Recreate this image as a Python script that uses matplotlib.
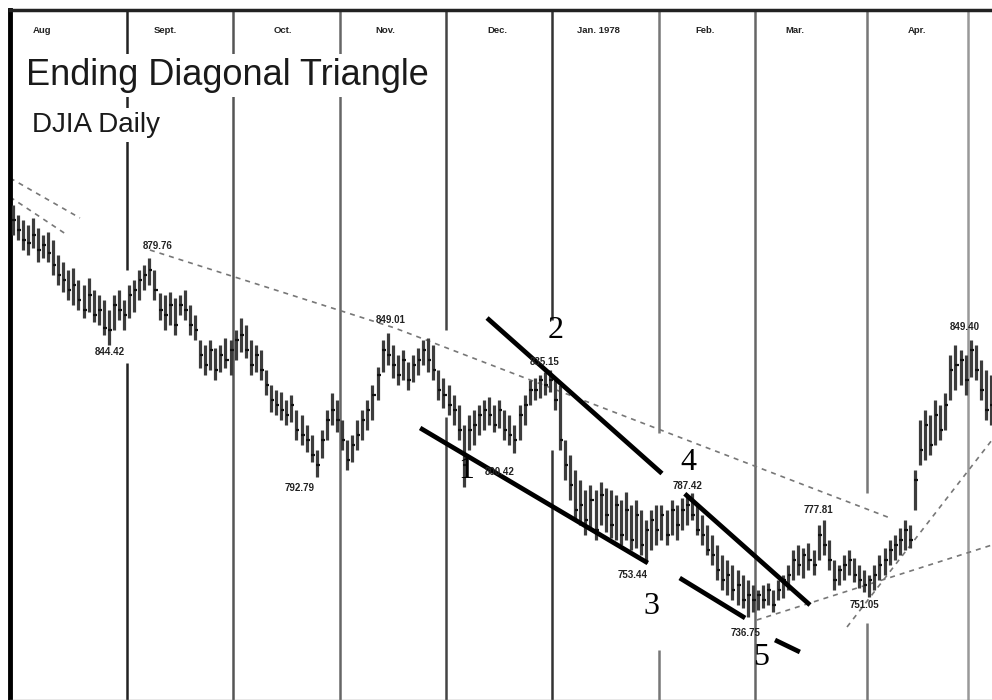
import numpy as np
import matplotlib
matplotlib.use("Agg")
import matplotlib.pyplot as plt

plt.rcParams['font.family'] = ['Liberation Sans', 'DejaVu Sans']

# DJIA daily bars, Aug 1977 - early May 1978 (one entry per trading day)
highs = [900.0, 896.0, 894.0, 892.0, 894.8, 890.8, 888.0, 889.2, 886.0, 880.0,
         877.2, 874.0, 874.8, 870.0, 868.0, 870.8, 866.0, 864.0, 862.0, 858.0,
         864.0, 866.0, 862.0, 868.0, 870.0, 874.0, 876.0, 878.8, 874.0, 864.8,
         864.0, 865.2, 862.8, 864.0, 866.0, 860.0, 856.0, 846.0, 844.0, 846.0,
         842.8, 844.0, 846.8, 846.0, 850.0, 854.8, 852.0, 846.0, 844.0, 842.0,
         834.0, 828.0, 826.0, 825.2, 822.0, 824.0, 818.0, 816.0, 812.0, 808.0,
         802.0, 810.0, 818.0, 824.8, 822.0, 814.0, 806.0, 808.0, 814.0, 818.0,
         822.0, 828.0, 835.2, 846.0, 848.8, 844.0, 840.0, 842.0, 837.2, 840.0,
         842.8, 846.0, 846.8, 844.0, 834.0, 830.8, 828.0, 824.0, 820.0, 812.0,
         816.0, 818.0, 820.0, 822.0, 823.2, 820.0, 822.0, 818.0, 816.0, 812.0,
         820.0, 824.0, 830.0, 830.8, 832.0, 833.2, 834.0, 830.0, 828.0, 806.0,
         800.0, 794.0, 790.0, 786.0, 788.0, 786.0, 789.2, 786.8, 786.0, 784.0,
         782.0, 785.2, 780.0, 782.0, 778.0, 774.0, 778.0, 780.0, 780.0, 778.0,
         782.0, 780.0, 782.8, 784.0, 784.8, 780.0, 776.0, 772.0, 768.0, 764.0,
         760.0, 758.0, 756.0, 754.0, 752.0, 750.0, 748.0, 746.0, 748.0, 748.8,
         746.0, 750.0, 752.0, 756.0, 762.0, 764.0, 762.8, 764.8, 762.0, 772.0,
         774.0, 766.0, 758.0, 756.0, 760.0, 762.0, 758.8, 756.0, 754.0, 752.0,
         756.0, 760.0, 762.8, 766.0, 768.0, 770.8, 774.0, 772.0, 794.0, 814.0,
         818.0, 816.0, 822.0, 820.0, 824.8, 840.0, 844.0, 842.0, 840.0, 846.0,
         844.0, 838.0, 834.0, 832.0]
lows = [888.0, 886.0, 882.0, 880.0, 882.8, 877.2, 878.8, 877.2, 872.0, 868.0,
        865.2, 862.0, 860.0, 858.0, 854.8, 857.2, 853.2, 852.0, 848.0, 844.0,
        850.0, 854.0, 850.0, 854.8, 857.2, 862.0, 866.0, 868.0, 862.0, 854.0,
        850.0, 852.0, 848.0, 856.0, 854.0, 848.0, 846.0, 834.8, 832.0, 834.0,
        830.0, 833.2, 834.8, 832.0, 838.0, 841.2, 838.8, 832.0, 833.2, 830.0,
        824.0, 817.2, 816.0, 814.0, 812.0, 813.2, 806.0, 804.0, 801.2, 797.2,
        791.2, 798.8, 806.0, 812.0, 809.2, 802.0, 794.0, 797.2, 802.0, 806.0,
        810.0, 814.0, 822.0, 833.2, 836.0, 830.8, 828.0, 830.0, 826.0, 829.2,
        832.0, 836.0, 833.2, 830.0, 822.0, 818.8, 816.0, 812.0, 806.0, 787.2,
        802.0, 804.0, 808.0, 810.0, 812.0, 809.2, 810.8, 806.0, 804.0, 800.8,
        806.0, 812.0, 820.0, 822.0, 822.8, 824.0, 825.2, 818.0, 802.0, 790.0,
        782.0, 774.0, 772.0, 768.0, 770.0, 766.0, 772.0, 769.2, 766.8, 766.0,
        764.0, 766.0, 762.0, 762.8, 760.0, 756.8, 762.0, 764.0, 766.0, 764.0,
        768.0, 766.0, 770.0, 772.0, 774.0, 768.0, 764.0, 760.0, 756.0, 750.0,
        746.0, 744.0, 742.0, 740.0, 738.8, 735.2, 737.2, 738.0, 738.8, 740.0,
        737.2, 742.0, 742.8, 746.0, 750.0, 752.0, 750.8, 754.0, 752.0, 758.0,
        760.0, 754.0, 746.0, 748.0, 750.0, 752.0, 749.2, 746.8, 745.2, 743.2,
        746.0, 750.0, 752.0, 756.0, 758.0, 760.0, 762.0, 762.8, 778.0, 796.0,
        798.0, 800.0, 804.0, 806.0, 810.0, 822.0, 826.0, 828.0, 824.0, 831.2,
        830.0, 822.0, 814.0, 812.0]
closes = [894, 890, 886, 885, 888, 882, 884, 881, 876, 872,
          870, 866, 868, 862, 858, 864, 856, 858, 851, 850,
          860, 858, 856, 864, 866, 870, 872, 874, 866, 858,
          856, 860, 852, 860, 858, 852, 850, 840, 836, 842,
          834, 840, 838, 842, 846, 848, 842, 836, 840, 834,
          828, 822, 820, 818, 816, 820, 810, 808, 806, 800,
          796, 806, 814, 818, 814, 806, 798, 804, 808, 814,
          818, 824, 832, 842, 840, 836, 832, 838, 830, 836,
          838, 842, 838, 834, 826, 824, 820, 818, 810, 796,
          810, 812, 816, 818, 816, 812, 818, 810, 808, 806,
          816, 820, 826, 826, 830, 828, 830, 822, 806, 796,
          788, 778, 780, 774, 782, 770, 784, 776, 772, 780,
          768, 778, 766, 776, 764, 770, 774, 770, 776, 768,
          778, 772, 778, 780, 776, 770, 768, 762, 760, 754,
          750, 752, 746, 748, 742, 744, 742, 744, 742, 746,
          740, 746, 750, 752, 758, 756, 760, 758, 756, 768,
          764, 758, 750, 754, 756, 758, 752, 750, 748, 750,
          752, 756, 758, 762, 764, 766, 770, 766, 790, 802,
          812, 804, 816, 810, 820, 834, 836, 838, 830, 842,
          834, 826, 818, 820]

# month dividers (between trading days) and top labels
month_breaks = [22.5, 43.5, 64.5, 85.5, 106.5, 127.5, 146.5, 168.5, 188.5]
month_names = ["Aug", "Sept.", "Oct.", "Nov.", "Dec.", "Jan. 1978", "Feb.", "Mar.", "Apr."]
month_label_x = [5.8, 30.1, 53.3, 73.5, 95.6, 115.5, 136.6, 154.3, 178.4]

# price labels at the turning points: (day, price, text)
point_labels = [(19.2, 841.2, "844.42"), (28.7, 883.6, "879.76"), (74.5, 854.0, "849.01"),
                (56.7, 786.8, "792.79"), (105.0, 837.2, "835.15"), (96.1, 793.2, "800.42"),
                (133.2, 787.6, "787.42"), (122.4, 752.0, "753.44"), (144.5, 728.8, "736.75"),
                (158.9, 778.0, "777.81"), (168.1, 740.0, "751.05"), (187.9, 851.2, "849.40")]
wave_labels = [(89.4, 794.0, "1"), (107.2, 850.0, "2"), (126.1, 739.5, "3"),
               (133.3, 797.0, "4"), (147.6, 719.0, "5")]

# wedge (solid) and trend (dashed) lines, endpoints
solid_lines = [((93.6, 854.8), (128.1, 792.6)), ((132.6, 784.5), (157.3, 740.0)),
               ((80.4, 810.8), (125.3, 756.8)), ((131.6, 750.8), (144.5, 734.8)),
               ((150.4, 726.0), (155.3, 721.2))]
dashed_lines = [[(-0.5, 910.8), (13.3, 894.8)], [(-0.5, 903.2), (10.2, 888.8)],
                [(27.1, 882.0), (75.4, 850.8), (173.1, 774.8)],
                [(146.8, 734.0), (193.2, 764.0)], [(164.6, 731.2), (193.2, 806.0)]]

fig = plt.figure(figsize=(9.92, 7.0), dpi=100)
ax = fig.add_axes([10 / 992, 0.0, 982 / 992, 690 / 700])
ax.set_xlim(-0.5, 193.2)
ax.set_ylim(702, 978)

# month lines, with the gaps seen in the scan
gaps = {22.5: (836.8, 874.0), 85.5: (815.2, 850.0), 106.5: (802.0, 854.0),
        127.5: (722.0, 808.8), 168.5: (732.8, 784.8)}
line_cols = ["#222222", "#555555", "#666666", "#444444", "#333333",
             "#777777", "#666666", "#777777", "#999999"]
for xb, c in zip(month_breaks, line_cols):
    if xb in gaps:
        lo, hi = gaps[xb]
        ax.vlines(xb, 702, lo, color=c, lw=1.8, zorder=1)
        ax.vlines(xb, hi, 978, color=c, lw=1.8, zorder=1)
    else:
        ax.vlines(xb, 702, 978, color=c, lw=1.8, zorder=1)

for xm, name in zip(month_label_x, month_names):
    ax.text(xm, 970, name, ha='center', va='center', fontsize=6.8,
            fontweight='bold', color='#222222', zorder=5)

days = np.arange(len(highs))
ax.vlines(days, lows, highs, color='#3c3c3c', lw=2.3, zorder=3)
ax.hlines(closes, days - 0.1, days + 0.6, color='#111111', lw=1.6, zorder=3)

for seg in dashed_lines:
    xs, ys = zip(*seg)
    ax.plot(xs, ys, color='#777777', lw=1.2, ls=(0, (3, 3)), zorder=2)
for (x0, y0), (x1, y1) in solid_lines:
    ax.plot([x0, x1], [y0, y1], color='black', lw=3.4, solid_capstyle='butt', zorder=4)

for x, y, t in point_labels:
    ax.text(x, y, t, ha='center', va='center', fontsize=7, fontweight='bold',
            color='#222222', zorder=5)
for x, y, t in wave_labels:
    ax.text(x, y, t, ha='center', va='center', fontsize=23,
            family=['Liberation Serif', 'DejaVu Serif'], color='black', zorder=5)

ax.text(0.016, 0.905, "Ending Diagonal Triangle", transform=ax.transAxes, fontsize=26,
        ha='left', va='center', color='#1a1a1a', zorder=6,
        bbox=dict(facecolor='white', edgecolor='none', pad=3))
ax.text(0.022, 0.833, "DJIA Daily", transform=ax.transAxes, fontsize=20,
        ha='left', va='center', color='#1a1a1a', zorder=6,
        bbox=dict(facecolor='white', edgecolor='none', pad=3))

ax.set_xticks([])
ax.set_yticks([])
ax.spines['right'].set_visible(False)
ax.spines['left'].set_linewidth(3.5)
ax.spines['top'].set_linewidth(2.5)
ax.spines['top'].set_color('#222222')
ax.spines['bottom'].set_linewidth(1.0)
ax.spines['bottom'].set_color('#888888')

fig.savefig("out.png", dpi=100)
